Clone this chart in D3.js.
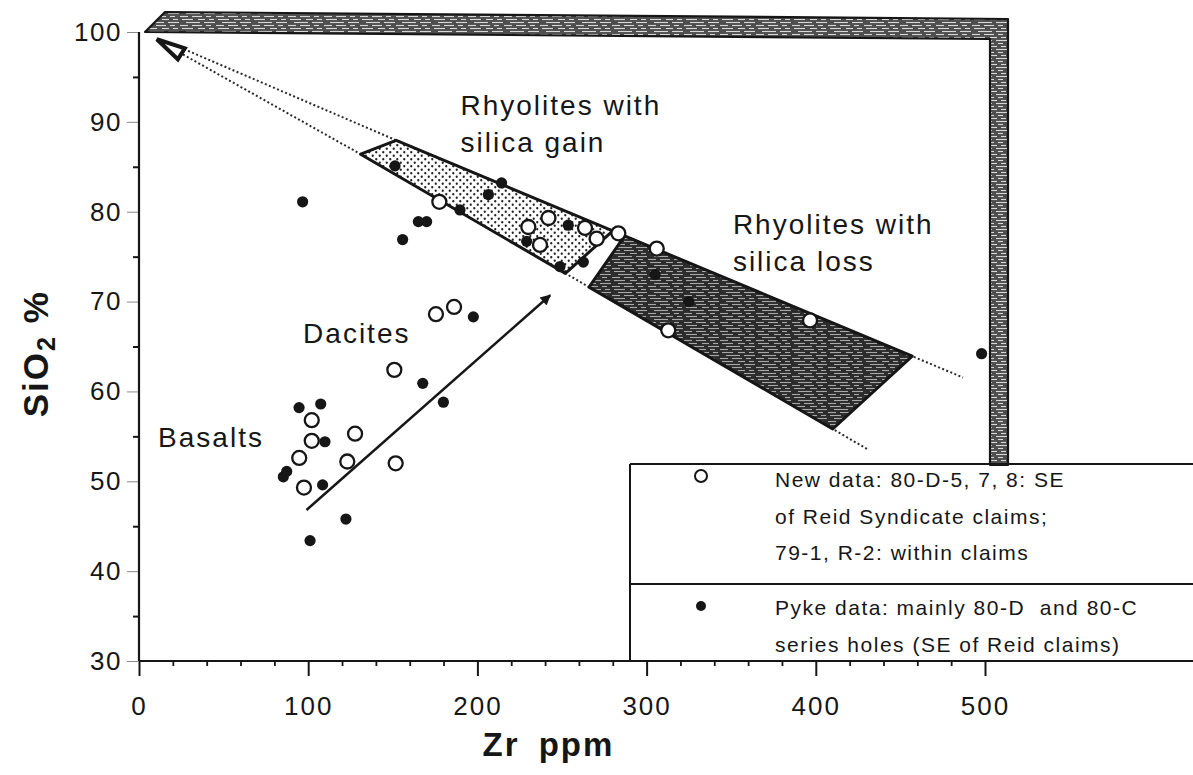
<!DOCTYPE html>
<html>
<head>
<meta charset="utf-8">
<script src="https://cdn.jsdelivr.net/npm/d3@7"></script>
<style>
  html, body { margin: 0; padding: 0; background: #fff; }
  svg { display: block; font-family: "Liberation Sans", Arial, Helvetica, sans-serif; }
</style>
</head>
<body>
<svg id="chart" width="1193" height="775"></svg>
<script>
// ---- Data: Zr (ppm) vs SiO2 (%) ----
// New data (open circles): 80-D-5, 7, 8; 79-1, R-2
const newZr = [102.1, 102.1, 94.7, 97.5, 127.7, 123.1, 151.7, 150.9, 175.5, 186.2,
               177.5, 230.1, 242.0, 237.0, 263.6, 270.5, 283.3, 306.0, 312.8, 396.6];
const newSi = [56.8, 54.5, 52.6, 49.3, 55.3, 52.2, 52.0, 62.4, 68.6, 69.4,
               81.1, 78.3, 79.3, 76.3, 78.2, 77.0, 77.6, 75.9, 66.8, 67.9];

// Pyke data (filled dots): 80-D and 80-C series holes
const pykeZr = [94.6, 107.4, 109.9, 85.3, 87.3, 108.5, 122.3, 101.1, 167.7, 179.9,
                197.6, 96.7, 165.1, 170.0, 155.8, 151.3, 189.7, 206.5, 214.3, 253.7,
                229.1, 262.6, 248.8, 305.0, 325.0, 498.0];
const pykeSi = [58.2, 58.6, 54.4, 50.5, 51.1, 49.6, 45.8, 43.4, 60.9, 58.8,
                68.3, 81.1, 78.9, 78.9, 76.9, 85.1, 80.2, 81.9, 83.2, 78.5,
                76.7, 74.4, 73.9, 73.0, 70.0, 64.2];

// Rhyolite fields (corners)
const gainZr = [131, 152, 280, 252];
const gainSi = [86.4, 87.95, 77.86, 73.14];
const lossZr = [287, 457, 410, 266];
const lossSi = [77.31, 63.92, 55.82, 71.61];

// Dilution lines radiating from the pure-silica point
const upperZr = [29, 152, 280, 287, 457, 487];
const upperSi = [97.9, 87.95, 77.86, 77.31, 63.92, 61.55];
const lowerZr = [26, 131, 252, 266, 410, 431];
const lowerSi = [97.5, 86.4, 73.14, 71.61, 55.82, 53.52];
const quartzPoint = [20, 98.3];

// Alteration trend arrow
const arrowZr = [99, 243];
const arrowSi = [46.8, 70.7];

// Axis ticks
const xTickLabels = [0, 100, 200, 300, 400, 500];
const yTickLabels = [30, 40, 50, 60, 70, 80, 90, 100];

// Field labels
const fieldLabels = [
  { lines: ["Rhyolites with", "silica gain"], zr: 190, si: 90.8 },
  { lines: ["Rhyolites with", "silica loss"], zr: 351, si: 77.5 },
  { lines: ["Dacites"], zr: 97, si: 65.4 },
  { lines: ["Basalts"], zr: 11.3, si: 53.8 }
];

const legendItems = [
  { type: "open", lines: ["New data: 80-D-5, 7, 8: SE", "of Reid Syndicate claims;", "79-1, R-2: within claims"] },
  { type: "filled", lines: ["Pyke data: mainly 80-D\u00a0 and 80-C", "series holes (SE of Reid claims)"] }
];

// ---- Drawing ----
const W = 1193, H = 775;
const svg = d3.select("#chart");
const x = d3.scaleLinear().domain([0, 500]).range([139, 985]);
const y = d3.scaleLinear().domain([30, 100]).range([661, 32]);
const ink = "#161616";

const defs = svg.append("defs");

// stipple for silica-gain field
const dots = defs.append("pattern").attr("id", "stipple")
  .attr("width", 7).attr("height", 7).attr("patternUnits", "userSpaceOnUse");
dots.append("rect").attr("width", 7).attr("height", 7).attr("fill", "#fff");
dots.append("circle").attr("cx", 1.75).attr("cy", 1.75).attr("r", 1.15).attr("fill", "#222");
dots.append("circle").attr("cx", 5.25).attr("cy", 5.25).attr("r", 1.15).attr("fill", "#222");

// streaky screen tone (silica-loss field and frame)
function streakPattern(id, base, light) {
  const p = defs.append("pattern").attr("id", id)
    .attr("width", 36).attr("height", 9).attr("patternUnits", "userSpaceOnUse");
  p.append("rect").attr("width", 36).attr("height", 9).attr("fill", base);
  const segs = [[2, 13, 1.5], [18, 25, 1.5], [29, 34, 1.5], [6, 20, 4.5], [24, 35, 4.5],
                [0, 8, 7.5], [12, 22, 7.5], [26, 31, 7.5]];
  segs.forEach(s => p.append("line").attr("x1", s[0]).attr("x2", s[1])
    .attr("y1", s[2]).attr("y2", s[2]).attr("stroke", light).attr("stroke-width", 1.1));
}
streakPattern("lossTone", "#2c2c2c", "#a8a8a8");
streakPattern("frameTone", "#4e4e4e", "#d8d8d8");

// arrow head
defs.append("marker").attr("id", "head").attr("viewBox", "0 0 10 10")
  .attr("refX", 9).attr("refY", 5).attr("markerWidth", 6.5).attr("markerHeight", 4.2)
  .attr("orient", "auto").attr("markerUnits", "strokeWidth")
  .append("path").attr("d", "M0,0 L10,5 L0,10 Z").attr("fill", ink);

// ---- frame band (top and right) ----
const frame = [
  [x(0) + 6, y(100)], [x(0) + 26, y(100) - 20], [x(0) + 869, y(100) - 13],
  [x(0) + 869, 465], [x(0) + 851, 465], [x(0) + 851, y(100) + 7]
];
svg.append("path").attr("d", d3.line()(frame) + "Z")
  .attr("fill", "url(#frameTone)").attr("stroke", ink).attr("stroke-width", 2.2)
  .attr("stroke-linejoin", "round");

// ---- axes ----
const xAxis = svg.append("g").attr("transform", `translate(0,${y(30)})`)
  .call(d3.axisBottom(x).tickValues(xTickLabels).tickSize(15).tickFormat(d3.format("d")));
xAxis.select(".domain").remove();
xAxis.selectAll(".tick line").attr("stroke", ink).attr("stroke-width", 2);
xAxis.selectAll(".tick text").attr("y", 54).attr("dy", null)
  .attr("font-size", 26).attr("letter-spacing", 2).attr("fill", ink)
  .attr("font-family", "Liberation Sans, Arial, sans-serif");

const xMinor = svg.append("g").attr("transform", `translate(0,${y(30)})`)
  .call(d3.axisBottom(x).tickValues(d3.range(20, 500, 20).filter(v => v % 100 !== 0))
    .tickSize(5).tickFormat(""));
xMinor.select(".domain").remove();
xMinor.selectAll(".tick line").attr("stroke", ink).attr("stroke-width", 1.8);

svg.append("line").attr("x1", x(0)).attr("x2", W).attr("y1", y(30)).attr("y2", y(30))
  .attr("stroke", ink).attr("stroke-width", 2.2);

const yAxis = svg.append("g").attr("transform", `translate(${x(0)},0)`)
  .call(d3.axisLeft(y).tickValues(yTickLabels).tickSize(12).tickFormat(d3.format("d")));
yAxis.select(".domain").remove();
yAxis.selectAll(".tick line").attr("stroke", "#8a8a8a").attr("stroke-width", 1);
yAxis.selectAll(".tick text").attr("x", -17).attr("font-size", 26).attr("letter-spacing", 1.5)
  .attr("fill", ink).attr("font-family", "Liberation Sans, Arial, sans-serif");

const yMinor = svg.append("g").attr("transform", `translate(${x(0)},0)`)
  .call(d3.axisLeft(y).tickValues(d3.range(35, 100, 10)).tickSize(6).tickFormat(""));
yMinor.select(".domain").remove();
yMinor.selectAll(".tick line").attr("stroke", ink).attr("stroke-width", 2);

svg.append("line").attr("x1", x(0)).attr("x2", x(0)).attr("y1", y(100)).attr("y2", y(30))
  .attr("stroke", ink).attr("stroke-width", 2.2);

// axis titles
svg.append("text").attr("x", x(0) + (x(500) - x(0)) * 0.484).attr("y", 756)
  .attr("text-anchor", "middle").attr("font-size", 33).attr("font-weight", "bold")
  .attr("letter-spacing", 2).attr("word-spacing", 8).attr("fill", ink).text("Zr ppm");

const yt = svg.append("text").attr("transform", `translate(48,${y(64.2)}) rotate(-90)`)
  .attr("text-anchor", "middle").attr("font-size", 35).attr("font-weight", "bold")
  .attr("letter-spacing", 2).attr("fill", ink);
yt.append("tspan").text("SiO");
yt.append("tspan").attr("font-size", 25).attr("dy", 7).text("2");
yt.append("tspan").attr("dy", -7).text(" %");

// ---- dilution lines ----
const pathLine = d3.line().x(d => x(d[0])).y(d => y(d[1]));
[[upperZr, upperSi], [lowerZr, lowerSi]].forEach(([zs, ss]) => {
  svg.append("path").attr("d", pathLine(zs.map((z, i) => [z, ss[i]])))
    .attr("fill", "none").attr("stroke", "#2a2a2a").attr("stroke-width", 2)
    .attr("stroke-dasharray", "2,2.4");
});

// ---- fields ----
svg.append("path").attr("d", pathLine(gainZr.map((z, i) => [z, gainSi[i]])) + "Z")
  .attr("fill", "url(#stipple)").attr("stroke", ink).attr("stroke-width", 3)
  .attr("stroke-linejoin", "round");
svg.append("path").attr("d", pathLine(lossZr.map((z, i) => [z, lossSi[i]])) + "Z")
  .attr("fill", "url(#lossTone)").attr("stroke", ink).attr("stroke-width", 3)
  .attr("stroke-linejoin", "round");

// pure-silica marker
svg.append("path")
  .attr("transform", `translate(${x(quartzPoint[0])},${y(quartzPoint[1])})`)
  .attr("d", "M-16,-8 L12,1 L5,12 Z")
  .attr("fill", "#fff").attr("stroke", ink).attr("stroke-width", 4).attr("stroke-linejoin", "miter");

// ---- trend arrow ----
svg.append("line")
  .attr("x1", x(arrowZr[0])).attr("y1", y(arrowSi[0]))
  .attr("x2", x(arrowZr[1])).attr("y2", y(arrowSi[1]))
  .attr("stroke", ink).attr("stroke-width", 2.5).attr("marker-end", "url(#head)");

// ---- points ----
svg.append("g").selectAll("circle").data(pykeZr.map((z, i) => [z, pykeSi[i]])).join("circle")
  .attr("cx", d => x(d[0])).attr("cy", d => y(d[1])).attr("r", 5.6).attr("fill", ink);
svg.append("g").selectAll("circle").data(newZr.map((z, i) => [z, newSi[i]])).join("circle")
  .attr("cx", d => x(d[0])).attr("cy", d => y(d[1])).attr("r", 7)
  .attr("fill", "#fff").attr("stroke", ink).attr("stroke-width", 2.3);

// ---- field labels ----
fieldLabels.forEach(f => {
  const t = svg.append("text").attr("x", x(f.zr)).attr("y", y(f.si))
    .attr("font-size", 28).attr("letter-spacing", 2).attr("fill", ink);
  f.lines.forEach((ln, i) => t.append("tspan").attr("x", x(f.zr)).attr("dy", i ? 37 : 0).text(ln));
});

// ---- legend ----
const lgLeft = 630, lgTop = 464, lgMid = 584;
svg.append("line").attr("x1", lgLeft).attr("x2", W).attr("y1", lgTop).attr("y2", lgTop)
  .attr("stroke", ink).attr("stroke-width", 2.2);
svg.append("line").attr("x1", lgLeft).attr("x2", W).attr("y1", lgMid).attr("y2", lgMid)
  .attr("stroke", ink).attr("stroke-width", 2);
svg.append("line").attr("x1", lgLeft).attr("x2", lgLeft).attr("y1", lgTop).attr("y2", y(30))
  .attr("stroke", ink).attr("stroke-width", 2);

const lgRows = [lgTop, lgMid];
legendItems.forEach((item, k) => {
  const top = lgRows[k];
  if (item.type === "open") {
    svg.append("circle").attr("cx", 701).attr("cy", top + 12).attr("r", 6)
      .attr("fill", "#fff").attr("stroke", ink).attr("stroke-width", 2);
  } else {
    svg.append("circle").attr("cx", 701).attr("cy", top + 22).attr("r", 5).attr("fill", ink);
  }
  const t = svg.append("text").attr("x", 775).attr("y", top + (k ? 31 : 23))
    .attr("font-size", 21).attr("letter-spacing", 1.5).attr("fill", ink);
  item.lines.forEach((ln, i) => t.append("tspan").attr("x", 775).attr("dy", i ? 36.5 : 0).text(ln));
});
</script>
</body>
</html>
